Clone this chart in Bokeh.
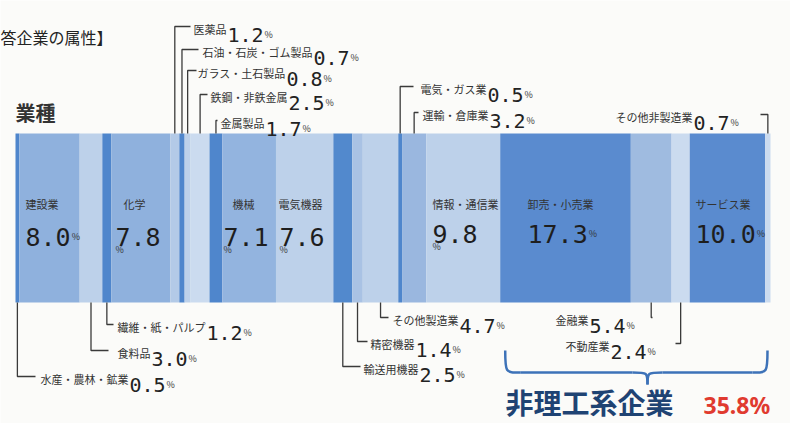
from bokeh.plotting import figure
from bokeh.models import Range1d
from bokeh.core.properties import value
from bokeh.embed import file_html
from bokeh.resources import INLINE

# ---------------- data ----------------
industries = ["水産・農林・鉱業", "建設業", "食料品", "繊維・紙・パルプ", "化学", "医薬品",
              "石油・石炭・ゴム製品", "ガラス・土石製品", "鉄鋼・非鉄金属", "金属製品", "機械",
              "電気機器", "輸送用機器", "精密機器", "その他製造業", "電気・ガス業", "運輸・倉庫業",
              "情報・通信業", "卸売・小売業", "金融業", "不動産業", "サービス業", "その他非製造業"]
shares = [0.5, 8.0, 3.0, 1.2, 7.8, 1.2, 0.7, 0.8, 2.5, 1.7, 7.1, 7.6, 2.5, 1.4, 4.7,
          0.5, 3.2, 9.8, 17.3, 5.4, 2.4, 10.0, 0.7]
non_science = ["卸売・小売業", "金融業", "不動産業", "サービス業", "その他非製造業"]
header_text = "答企業の属性】"
axis_title = "業種"
group_title = "非理工系企業"

# ---------------- styles ----------------
DARK, MED, LIGHT, PALE = "#4f86cc", "#8fb1dd", "#bdd1ea", "#cbdbef"
seg_colors = [DARK, MED, LIGHT, DARK, MED, "#b3cae7", DARK, LIGHT, PALE, DARK, "#93b4df",
              LIGHT, "#5289cd", "#a9c2e4", LIGHT, DARK, "#9ab7df", LIGHT, "#5a8bcf",
              "#9fbbe0", PALE, "#5a8bcf", PALE]
CJK = "Noto Sans CJK JP"
MONO = "DejaVu Sans Mono"
TXT = "#333333"
LEAD = "#3a3a3a"

BAR_X0, PX_PER = 15.0, 7.55      # page px of 0 %, px per %
BAR_TOP, BAR_BOT = 133, 302
OFF = 0                          # page offset of the canvas


def X(px):
    return (px - BAR_X0) / PX_PER


W, H = 790, 423
p = figure(width=W, height=H, output_backend="svg", toolbar_location=None,
           x_range=Range1d(X(OFF), X(OFF + W)), y_range=Range1d(OFF + H, OFF),
           min_border=0, background_fill_color="#fbfbf9", border_fill_color="#fbfbf9")
p.axis.visible = False
p.grid.visible = False
p.outline_line_color = None

# cumulative positions
lefts, rights = [], []
acc = 0.0
for s in shares:
    lefts.append(acc)
    acc += s
    rights.append(acc)
centers = {n: (l + r) / 2 for n, l, r in zip(industries, lefts, rights)}

p.quad(left=lefts, right=rights, bottom=[BAR_BOT] * len(shares), top=[BAR_TOP] * len(shares),
       fill_color=seg_colors, line_color=None)


def put(xp, yp, s, size, font=CJK, align="left", baseline="middle", color=TXT, style="normal"):
    p.text(x=[X(xp)], y=[yp], text=[s], text_font=value(font), text_font_size=f"{size}px",
           text_align=align, text_baseline=baseline, text_color=color, text_font_style=style)


LBL_FS, VAL_FS, PCT_FS = 11, 20, 9

# outside annotations: label left x, label centre y, leader elbow x (page px)
outside = {
    "医薬品": (193, 27, 190, "top"),
    "石油・石炭・ゴム製品": (202, 50, 198, "top"),
    "ガラス・土石製品": (197, 71, 196, "top"),
    "鉄鋼・非鉄金属": (210, 95, 207, "top"),
    "金属製品": (220, 121, 217, "top"),
    "電気・ガス業": (420, 87, 413, "top"),
    "運輸・倉庫業": (422, 113, 418, "top"),
    "その他非製造業": (615, 115, 760, "top"),
    "水産・農林・鉱業": (40, 377, 35, "bottom"),
    "食料品": (117, 351, 108, "bottom"),
    "繊維・紙・パルプ": (117, 325, 113, "bottom"),
    "輸送用機器": (363, 367, 360, "bottom"),
    "精密機器": (370, 342, 367, "bottom"),
    "その他製造業": (392, 318, 388, "bottom"),
    "金融業": (555, 318, 652, "bottom"),
    "不動産業": (565, 344, 675, "bottom"),
}
share_of = dict(zip(industries, shares))
for name, (lx, cy, ex, side) in outside.items():
    v = f"{share_of[name]:.1f}"
    p.text(x=[X(lx)], y=[cy + 1], text=[name], text_font=value(CJK), text_font_size=f"{LBL_FS}px",
           text_align="left", text_baseline="middle", text_color=TXT)
    vx = lx + len(name) * LBL_FS + 1
    put(vx, cy + 7, v, VAL_FS, font=MONO, baseline="alphabetic", color="#222222")
    put(vx + len(v) * 0.602 * VAL_FS + 1, cy + 7, "%", PCT_FS, baseline="alphabetic")
    cx = centers[name]
    edge = BAR_TOP if side == "top" else BAR_BOT
    p.line(x=[cx, cx, X(ex)], y=[edge, cy - 1, cy - 1], line_color=LEAD, line_width=1.3)

# inside annotations: label x, value x, pct placement, value baseline
inside = {
    "建設業": (25, 25, "right", 236),
    "化学": (123, 115, "below", 236),
    "機械": (232, 223, "below", 236),
    "電気機器": (278, 279, "below", 236),
    "情報・通信業": (432, 432, "below", 233),
    "卸売・小売業": (527, 527, "right", 233),
    "サービス業": (695, 695, "right", 233),
}
IN_FS = 25
for name, (lx, vx, pct, base) in inside.items():
    v = f"{share_of[name]:.1f}"
    put(lx, 203, name, 11)
    put(vx, base, v, IN_FS, font=MONO, baseline="alphabetic", color="#1e1e1e")
    if pct == "right":
        put(vx + len(v) * 0.602 * IN_FS + 1, base, "%", PCT_FS, baseline="alphabetic")
    else:
        put(vx, base + 13, "%", PCT_FS)

# header / titles
put(0, 36, header_text, 16, color="#222222")
put(15, 112, axis_title, 20, color="#333333", style="bold")

# brace under the non-science group
g_left = min(lefts[industries.index(n)] for n in non_science)
g_right = max(rights[industries.index(n)] for n in non_science)
bx0 = g_left + X(505) - X(500)
bx1 = g_right - (X(770) - X(767))
tip = X(647)
r = X(15) - X(0)
BY0, BY1, BY2 = 350, 372, 384
BR = "#3d72b8"
p.bezier(x0=[bx0, tip - r, tip, bx1 - r], y0=[BY0, BY1, BY2, BY1],
         x1=[bx0 + r, tip, tip + r, bx1], y1=[BY1, BY2, BY1, BY0],
         cx0=[bx0, tip, tip, bx1], cy0=[BY1, BY1, BY1, BY1],
         cx1=[bx0, tip, tip, bx1], cy1=[BY1, BY1, BY1, BY1],
         line_color=BR, line_width=2.5)
p.segment(x0=[bx0 + r, tip + r], y0=[BY1, BY1], x1=[tip - r, bx1 - r], y1=[BY1, BY1],
          line_color=BR, line_width=2.5)

group_total = sum(share_of[n] for n in non_science)
put(505, 401, group_title, 28, color="#1f4373", style="bold")
put(703, 404, f"{group_total:.1f}%", 23, font="Noto Sans", color="#e03a2f", style="bold")

open("out.html", "w").write(file_html(p, INLINE))
